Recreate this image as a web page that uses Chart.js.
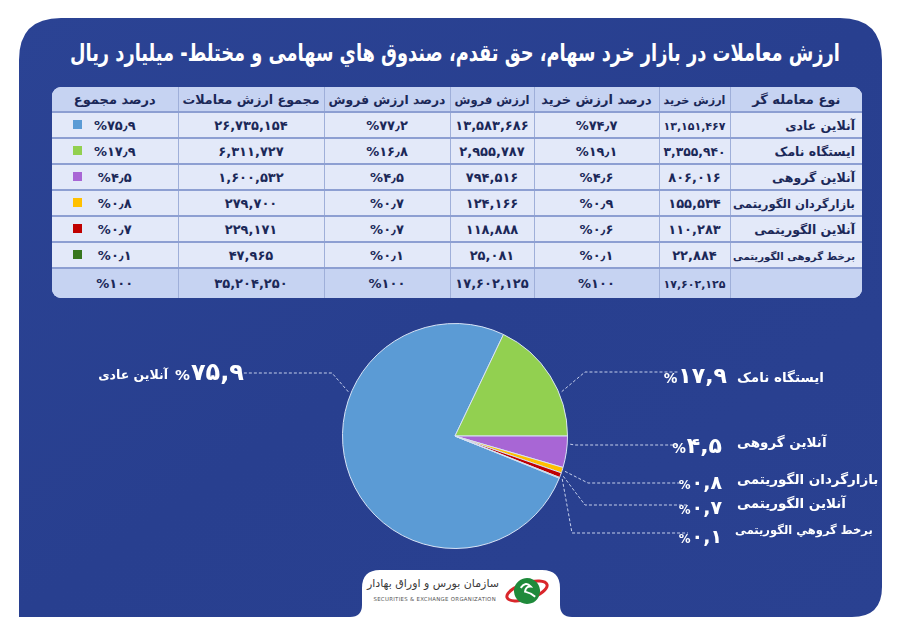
<!DOCTYPE html>
<html lang="fa">
<head>
<meta charset="utf-8">
<title>ارزش معاملات در بازار خرد سهام</title>
<script src="https://cdn.jsdelivr.net/npm/chart.js@4.4.1/dist/chart.umd.min.js"></script>
<style>
  body { margin: 0; width: 900px; height: 636px; background: #fff; position: relative; overflow: hidden;
         font-family: "DejaVu Sans", "Noto Sans", sans-serif; }
  #panel { position: absolute; left: 0; top: 0; }
  .title { position: absolute; left: 455px; top: 53px; transform: translate(-50%, -50%);
           color: #fff; font-weight: bold; font-size: 24px; direction: rtl; white-space: nowrap; }
  #tableBox { position: absolute; left: 52px; top: 87px; width: 810px; height: 211px; border-radius: 9px;
              overflow: hidden; background: #e3e9f9; }
  table { border-collapse: collapse; width: 810px; table-layout: fixed; direction: rtl; }
  th, td { border-left: 1px solid #9fafd9; border-bottom: 2px solid #8d9fd2; text-align: center; color: #1b2858;
           font-weight: bold; font-size: 13px; padding: 0; white-space: nowrap; position: relative; overflow: hidden; }
  th { font-size: 13px; }
  th:last-child, td:last-child { border-left: none; }
  thead tr { height: 25px; background: #c6d3f2; }
  tbody tr { height: 26px; }
  tr.total { height: 30px; background: #c6d3f2; }
  tr.total td { border-bottom: none; }
  td.name { text-align: right; padding-right: 7px; font-size: 12.5px; }
  td.num { direction: ltr; }
  .sw { position: absolute; left: 21px; top: 50%; width: 9px; height: 9px; margin-top: -5px; }
  #pieWrap { position: absolute; left: 0; top: 300px; width: 900px; height: 300px; }
  .pct { position: absolute; color: #fff; font-weight: bold; direction: ltr; white-space: nowrap; transform: translateY(-50%); }
  .pct .ps { font-size: 0.62em; margin-right: 1px; }
  .nm { position: absolute; color: #fff; font-weight: bold; direction: rtl; white-space: nowrap; transform: translateY(-50%); font-size: 13px; }
  .org { position: absolute; color: #3a3a3a; white-space: nowrap; }
</style>
</head>
<body>
<svg id="panel" width="900" height="636">
  <defs>
    <linearGradient id="bg" x1="0" y1="0" x2="1" y2="1">
      <stop offset="0" stop-color="#2b4394"/>
      <stop offset="0.5" stop-color="#283f8f"/>
      <stop offset="1" stop-color="#2a4191"/>
    </linearGradient>
  </defs>
  <path fill="url(#bg)" d="M19,60 Q19,18 61,18 L840,18 Q882,18 882,60 L882,587 Q882,617 852,617
     L572,617 Q560,617 560,605 L560,588 Q560,570 542,570 L380,570 Q362,570 362,588 L362,605 Q362,617 350,617
     L19,617 Z"/>
  <g transform="translate(527,591) rotate(-18)">
    <ellipse cx="0" cy="0" rx="21" ry="8" fill="none" stroke="#d9262b" stroke-width="3"/>
    <circle cx="0" cy="0" r="13" fill="#1f8a3b"/>
    <path d="M-5,-5 q7,-5 10,2 q-5,-2 -7,3 q5,3 8,8" fill="none" stroke="#fff" stroke-width="2"/>
  </g>
</svg>

<div class="title" id="title">ارزش معاملات در بازار خرد سهام، حق تقدم، صندوق هاي سهامی و مختلط- میلیارد ریال</div>

<div id="tableBox"><table id="tbl"></table></div>

<div class="org" style="right:401px; top:577px; font-size:11px; direction:rtl;">سازمان بورس و اوراق بهادار</div>
<div class="org" style="right:404px; top:596px; font-size:5.4px; letter-spacing:0.3px; color:#555;">SECURITIES &amp; EXCHANGE ORGANIZATION</div>

<div id="pieWrap"><canvas id="pie" width="900" height="300"></canvas></div>
<div id="labels"></div>

<script>
// Data (billion rials)
const traderTypes = ['آنلاین عادی', 'ایستگاه نامک', 'آنلاین گروهی', 'بازارگردان الگوریتمی', 'آنلاین الگوریتمی', 'برخط گروهی الگوریتمی'];
const pieNames = ['آنلاین عادی', 'ایستگاه نامک', 'آنلاین گروهی', 'بازارگردان الگوریتمی', 'آنلاین الگوریتمی', 'برخط گروهي الگوريتمی'];
const buyValues = [13151467, 3355940, 806016, 155534, 110283, 22884];
const buyShare = [74.7, 19.1, 4.6, 0.9, 0.6, 0.1];
const sellValues = [13583686, 2955787, 794516, 124166, 118888, 25081];
const sellShare = [77.2, 16.8, 4.5, 0.7, 0.7, 0.1];
const totalValues = [26735154, 6311727, 1600532, 279700, 229171, 47965];
const totalShare = [75.9, 17.9, 4.5, 0.8, 0.7, 0.1];
const columnTotals = [17602125, 100, 17602125, 100, 35204250, 100];
const headers = ['نوع معامله گر', 'ارزش خرید', 'درصد ارزش خرید', 'ارزش فروش', 'درصد ارزش فروش', 'مجموع ارزش معاملات', 'درصد مجموع'];

const sliceColors = ['#5b9bd5', '#92d050', '#a866d5', '#ffc000', '#c00000', '#37761e'];

// Layout (page coordinates)
const colWidths = [132, 71, 125, 84, 126, 146, 126];
const TITLE_WIDTH = 770;
const CANVAS_TOP = 300;
const leaderAnchor = [0.66, 0.65, 0.25, 0.55, 0.5, 0.5];
const leaderPath = [
  { kneeX: 332, endX: 242, y: 373 },
  { kneeX: 585, endX: 678, y: 372 },
  { kneeX: 575, endX: 678, y: 445 },
  { kneeX: 588, endX: 683, y: 483 },
  { kneeX: 585, endX: 687, y: 505 },
  { kneeX: 572, endX: 688, y: 533 },
];
const labelLayout = [
  { side: 'left', pctX: 175, pctY: 372, pctSize: 24, nameX: 168, nameY: 374, nameSize: 12.5 },
  { side: 'right', pctX: 727, pctY: 375, pctSize: 22, nameX: 737, nameY: 377, nameSize: 13.5 },
  { side: 'right', pctX: 722, pctY: 445, pctSize: 22, nameX: 737, nameY: 442, nameSize: 13.5 },
  { side: 'right', pctX: 722, pctY: 482, pctSize: 19, nameX: 737, nameY: 479, nameSize: 13.5 },
  { side: 'right', pctX: 722, pctY: 507, pctSize: 19, nameX: 737, nameY: 503, nameSize: 13.5 },
  { side: 'right', pctX: 722, pctY: 536, pctSize: 19, nameX: 735, nameY: 530, nameSize: 11.5 },
];

const faDigits = '۰۱۲۳۴۵۶۷۸۹';
function toFa(str) {
  return String(str).replace(/[0-9]/g, d => faDigits[d]);
}
function faNum(n) {
  return toFa(n.toLocaleString('en-US'));
}
function faPct(p) {
  return '%' + toFa(String(p)).replace('.', '٫');
}

// Table
function buildTable() {
  const tbl = document.getElementById('tbl');
  const cell = (cls, txt, extra) => '<td class="' + cls + '"><span class="in">' + txt + '</span>' + (extra || '') + '</td>';
  let html = '<colgroup>' + colWidths.map(w => '<col style="width:' + w + 'px">').join('') + '</colgroup>';
  html += '<thead><tr>' + headers.map(h => '<th><span class="in">' + h + '</span></th>').join('') + '</tr></thead><tbody>';
  traderTypes.forEach((name, i) => {
    html += '<tr>' +
      cell('name', name) +
      cell('num', faNum(buyValues[i])) +
      cell('num', faPct(buyShare[i])) +
      cell('num', faNum(sellValues[i])) +
      cell('num', faPct(sellShare[i])) +
      cell('num', faNum(totalValues[i])) +
      cell('num', faPct(totalShare[i]), '<span class="sw" style="background:' + sliceColors[i] + '"></span>') +
      '</tr>';
  });
  html += '<tr class="total"><td></td>' +
    columnTotals.map((v, j) => cell('num', j % 2 === 1 ? faPct(v) : faNum(v))).join('') +
    '</tr></tbody>';
  tbl.innerHTML = html;

  // shrink any text that does not fit its cell
  tbl.querySelectorAll('.in').forEach(span => {
    const td = span.parentElement;
    const avail = td.clientWidth - (td.classList.contains('name') ? 10 : 8);
    const w = span.getBoundingClientRect().width;
    if (w > avail) {
      const fs = parseFloat(getComputedStyle(td).fontSize);
      span.style.fontSize = (fs * avail / w).toFixed(2) + 'px';
    }
  });
}

// Pie labels
function buildLabels() {
  const box = document.getElementById('labels');
  labelLayout.forEach((L, i) => {
    const pct = document.createElement('div');
    pct.className = 'pct';
    pct.style.fontSize = L.pctSize + 'px';
    pct.style.top = L.pctY + 'px';
    pct.innerHTML = '<span class="ps">%</span>' + toFa(String(totalShare[i])).replace('.', ',');
    const nm = document.createElement('div');
    nm.className = 'nm';
    nm.style.fontSize = L.nameSize + 'px';
    nm.style.top = L.nameY + 'px';
    nm.textContent = pieNames[i];
    if (L.side === 'right') {
      pct.style.right = (900 - L.pctX) + 'px';
      nm.style.left = L.nameX + 'px';
    } else {
      pct.style.left = L.pctX + 'px';
      nm.style.right = (900 - L.nameX) + 'px';
    }
    box.appendChild(pct);
    box.appendChild(nm);
  });
}

function fitTitle() {
  const t = document.getElementById('title');
  const w = t.getBoundingClientRect().width;
  const s = Math.min(1, TITLE_WIDTH / w);
  t.style.transform = 'translate(-50%, -50%) scaleX(' + s.toFixed(3) + ')';
}

// Dashed leader lines from each slice to its label
const leaderPlugin = {
  id: 'leaders',
  afterDatasetsDraw(chart) {
    const ctx = chart.ctx;
    const arcs = chart.getDatasetMeta(0).data;
    ctx.save();
    ctx.strokeStyle = 'rgba(225, 232, 250, 0.85)';
    ctx.lineWidth = 1;
    ctx.setLineDash([3, 2]);
    arcs.forEach((arc, i) => {
      const p = arc.getProps(['x', 'y', 'startAngle', 'endAngle', 'outerRadius'], true);
      const a = p.startAngle + (p.endAngle - p.startAngle) * leaderAnchor[i];
      const r = p.outerRadius + 3;
      const L = leaderPath[i];
      ctx.beginPath();
      ctx.moveTo(p.x + Math.cos(a) * r, p.y + Math.sin(a) * r);
      ctx.lineTo(L.kneeX, L.y - CANVAS_TOP);
      ctx.lineTo(L.endX, L.y - CANVAS_TOP);
      ctx.stroke();
    });
    ctx.restore();
  }
};

fitTitle();
buildTable();
buildLabels();

new Chart(document.getElementById('pie').getContext('2d'), {
  type: 'pie',
  data: {
    labels: traderTypes,
    datasets: [{
      data: totalShare,
      backgroundColor: sliceColors,
      borderColor: '#d8e3f5',
      borderWidth: 1,
    }],
  },
  options: {
    responsive: false,
    animation: false,
    rotation: 112,
    layout: { padding: { left: 342, right: 332, top: 23, bottom: 51 } },
    plugins: {
      legend: { display: false },
      tooltip: { enabled: false },
    },
  },
  plugins: [leaderPlugin],
});
</script>
</body>
</html>
